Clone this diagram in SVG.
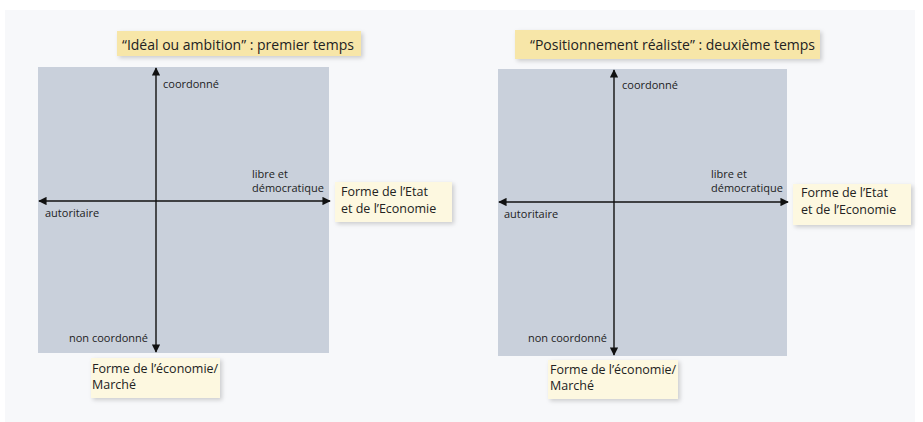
<svg xmlns="http://www.w3.org/2000/svg" width="923" height="422" viewBox="0 0 923 422">
<defs>
<style>
.bg{fill:#f7f8fa}
.panel{fill:#c9d0db}
.title{fill:#f7e6a8}
.lbl{fill:#fdf8e0}
.ax{stroke:#111;stroke-width:1.4;fill:none}
.t{font-family:"Open Sans","Noto Sans",sans-serif;fill:#222}
.s{font-size:11px}
.m{font-size:12.5px}
.l{font-size:14px}
</style>
<filter id="sh" x="-10%" y="-20%" width="130%" height="150%">
<feDropShadow dx="2" dy="2" stdDeviation="2" flood-color="#000" flood-opacity="0.18"/>
</filter>
<marker id="ah" viewBox="0 0 10 10" refX="9" refY="5" markerWidth="6" markerHeight="6" orient="auto-start-reverse" markerUnits="strokeWidth">
<path d="M0,0 L10,5 L0,10 Z" fill="#111"/>
</marker>
</defs>
<rect class="bg" x="5" y="10" width="910" height="412"/>

<g id="panel1">
<rect class="panel" x="38" y="67" width="291" height="286"/>
</g>
<g id="panel2">
<rect class="panel" x="498" y="69" width="289" height="287"/>
</g>

<g id="connectors">
<line class="ax" x1="156" y1="68" x2="156" y2="352" marker-start="url(#ah)" marker-end="url(#ah)"/>
<line class="ax" x1="39" y1="201" x2="330" y2="201" marker-start="url(#ah)" marker-end="url(#ah)"/>
<line class="ax" x1="614" y1="70" x2="614" y2="355" marker-start="url(#ah)" marker-end="url(#ah)"/>
<line class="ax" x1="499" y1="202" x2="788" y2="202" marker-start="url(#ah)" marker-end="url(#ah)"/>
</g>

<g id="title1">
<rect class="title" x="117" y="31" width="244" height="25" filter="url(#sh)"/>
<text class="t l" x="122" y="50">“Idéal ou ambition” : premier temps</text>
</g>
<g id="title2">
<rect class="title" x="515" y="30" width="305" height="29" filter="url(#sh)"/>
<text class="t l" x="530" y="50">“Positionnement réaliste” : deuxième temps</text>
</g>

<g id="labels1">
<text class="t s" x="163" y="88">coordonné</text>
<text class="t s" x="252" y="178">libre et</text>
<text class="t s" x="252" y="192">démocratique</text>
<text class="t s" x="45" y="217">autoritaire</text>
<text class="t s" x="69" y="342">non coordonné</text>
</g>
<g id="labels2">
<text class="t s" x="622" y="89">coordonné</text>
<text class="t s" x="711" y="178">libre et</text>
<text class="t s" x="711" y="192">démocratique</text>
<text class="t s" x="504" y="218">autoritaire</text>
<text class="t s" x="528" y="342">non coordonné</text>
</g>

<g id="etat1">
<rect class="lbl" x="335" y="182" width="117" height="40" filter="url(#sh)"/>
<text class="t m" x="341" y="196">Forme de l’Etat</text>
<text class="t m" x="341" y="213">et de l’Economie</text>
</g>
<g id="etat2">
<rect class="lbl" x="793" y="184" width="118" height="41" filter="url(#sh)"/>
<text class="t m" x="801" y="197">Forme de l’Etat</text>
<text class="t m" x="801" y="214">et de l’Economie</text>
</g>
<g id="marche1">
<rect class="lbl" x="91" y="358" width="129" height="40" filter="url(#sh)"/>
<text class="t m" x="92" y="373">Forme de l’économie/</text>
<text class="t m" x="92" y="389">Marché</text>
</g>
<g id="marche2">
<rect class="lbl" x="548" y="360" width="130" height="39" filter="url(#sh)"/>
<text class="t m" x="550" y="374">Forme de l’économie/</text>
<text class="t m" x="550" y="390">Marché</text>
</g>
</svg>
